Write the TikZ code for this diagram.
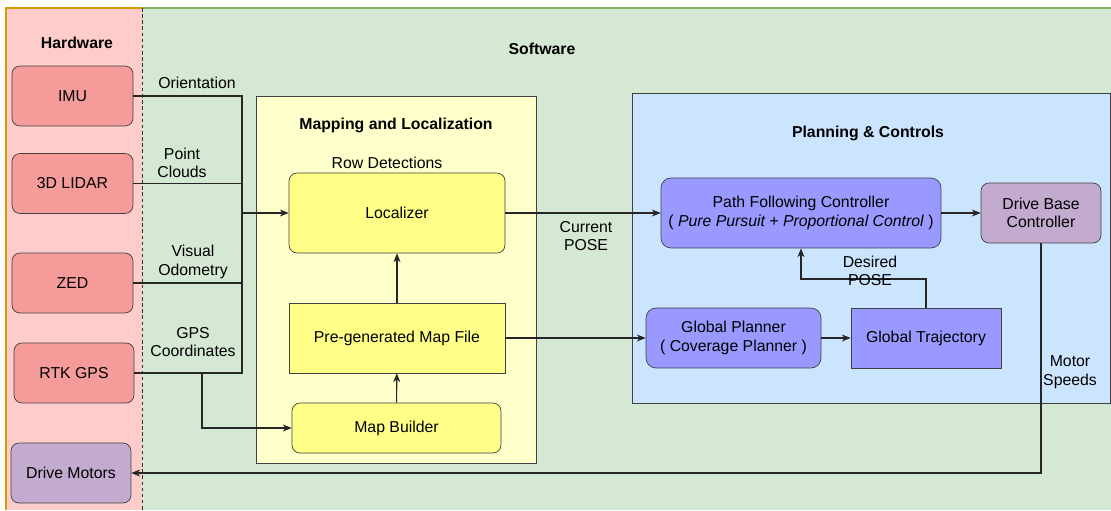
\documentclass[tikz,border=0pt]{standalone}
\usepackage{fontspec}
\setmainfont{Liberation Sans}
\usepackage{xcolor}
\usepackage{tikz}
\usetikzlibrary{shapes,arrows,arrows.meta,positioning,calc}

\definecolor{hwbg}{HTML}{FFCCCC}
\definecolor{hwline}{HTML}{D79B00}
\definecolor{swbg}{HTML}{D5E8D4}
\definecolor{swline}{HTML}{82B366}
\definecolor{hwfill}{HTML}{F59C9B}
\definecolor{drivefill}{HTML}{C3ABD0}
\definecolor{mlbg}{HTML}{FFFFCC}
\definecolor{mlfill}{HTML}{FFFF88}
\definecolor{pcbg}{HTML}{CCE5FF}
\definecolor{pcfill}{HTML}{9999FF}

\begin{document}
\begin{tikzpicture}[x=0.02cm, y=-0.02cm, >={Stealth[length=5pt,width=4pt,inset=1.5pt]}, font=\fontsize{9}{10.5}\selectfont,
    hwbox/.style={draw=black!75, rounded corners=0.16cm, fill=hwfill, minimum width=2.42cm, minimum height=1.2cm},
    drivebox/.style={draw=black!75, rounded corners=0.16cm, fill=drivefill, minimum width=2.4cm, minimum height=1.2cm, align=center},
    mlbox/.style={draw=black!75, fill=mlfill, minimum width=4.32cm},
    pcbox/.style={draw=black!75, fill=pcfill, align=center},
    sigline/.style={draw=black!85, line width=0.6pt},
    siglabel/.style={align=center, inner sep=0pt}]

\useasboundingbox (0,0) rectangle (1111,510);

% backgrounds
\fill[hwbg] (6,8) rectangle (142,510);
\draw[hwline, line width=0.8pt] (6,510) -- (6,8) -- (142,8);
\fill[swbg] (142,8) rectangle (1111,510);
\draw[swline, line width=0.8pt] (142,8) -- (1111,8);
\draw[black!80, dash pattern=on 2pt off 1.5pt] (142,8) -- (142,510);

\node[font=\fontsize{9}{10.5}\selectfont\bfseries] (hwtitle) at (77,43) {Hardware};
\node[font=\fontsize{9}{10.5}\selectfont\bfseries] (swtitle) at (542,49) {Software};

% hardware
\node[hwbox] (imu) at (72.5,96) {IMU};
\node[hwbox] (lidar) at (72.5,183.5) {3D LIDAR};
\node[hwbox] (zed) at (72.5,283) {ZED};
\node[hwbox, minimum width=2.4cm] (rtk) at (74,373) {RTK GPS};
\node[drivebox] (motors) at (71,473) {Drive Motors};

% mapping and localization
\draw[black!75, fill=mlbg] (256,96) rectangle (536,463);
\node[font=\fontsize{9}{10.5}\selectfont\bfseries] (mltitle) at (396,125) {Mapping and Localization};
\node[mlbox, rounded corners=0.16cm, minimum height=1.6cm] (loc) at (397,213) {Localizer};
\node (rowdet) at (387,163) {Row Detections};
\node[mlbox, minimum height=1.4cm] (mapfile) at (397,338) {Pre-generated Map File};
\node[mlbox, rounded corners=0.16cm, minimum width=4.18cm, minimum height=1cm] (builder) at (396.5,428) {Map Builder};

% planning and controls
\draw[black!75, fill=pcbg] (632,93) rectangle (1110,403);
\node[font=\fontsize{9}{10.5}\selectfont\bfseries] (pctitle) at (868,133) {Planning \& Controls};
\node[pcbox, rounded corners=0.2cm, minimum width=5.6cm, minimum height=1.4cm] (pfc) at (801,213)
    {Path Following Controller\\( \textit{Pure Pursuit + Proportional Control} )};
\node[drivebox] (dbc) at (1041,213) {Drive Base\\Controller};
\node[pcbox, rounded corners=0.2cm, minimum width=3.5cm, minimum height=1.2cm] (gp) at (733.5,338)
    {Global Planner\\( Coverage Planner )};
\node[pcbox, minimum width=3cm, minimum height=1.2cm] (gt) at (926,338) {Global Trajectory};

% sensor bus
\coordinate (bustop) at (242,96);
\coordinate (busbot) at (242,373);
\coordinate (gpsfork) at (202,373);
\coordinate (desired) at (801,279);

\draw[sigline] (imu) -- (bustop) -- (busbot) -- (rtk);
\draw[sigline] (lidar) -- (lidar -| bustop);
\draw[sigline] (zed) -- (zed -| bustop);
\draw[sigline, ->] (bustop |- loc) -- (loc);
\draw[sigline, ->] (gpsfork) |- (builder);

\draw[sigline, ->] (mapfile) -- (loc);
\draw[sigline, ->] (builder) -- (mapfile);
\draw[sigline, ->] (loc) -- (pfc);
\draw[sigline, ->] (mapfile) -- (gp);
\draw[sigline, ->] (pfc) -- (dbc);
\draw[sigline, ->] (gp) -- (gt);
\draw[sigline, ->] (gt.north) |- (desired) -- (pfc.south);
\draw[sigline, ->] (dbc.south) |- (motors);

% signal labels
\node[siglabel] (orient) at (197,83) {Orientation};
\node[siglabel] (clouds) at (182,163) {Point\\Clouds};
\node[siglabel] (odom) at (193,262) {Visual\\Odometry};
\node[siglabel] (gpscoord) at (193,342) {GPS\\Coordinates};
\node[siglabel] (curpose) at (586,236) {Current\\POSE};
\node[siglabel] (despose) at (870,271) {Desired\\POSE};
\node[siglabel] (speeds) at (1070,372) {Motor\\Speeds};

\end{tikzpicture}
\end{document}
